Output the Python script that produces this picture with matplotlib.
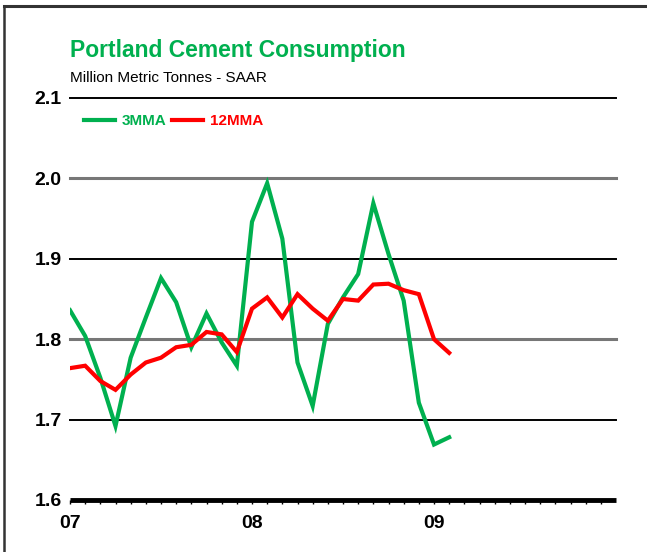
import numpy as np
import matplotlib.pyplot as plt
from matplotlib.lines import Line2D

# months since Jan 2007
months = np.arange(26)
mma3 = [1.836, 1.804, 1.752, 1.692, 1.777, 1.827, 1.876, 1.846, 1.790, 1.832, 1.796, 1.767,
        1.946, 1.994, 1.925, 1.771, 1.717, 1.819, 1.852, 1.881, 1.969, 1.906, 1.848, 1.721,
        1.669, 1.678]
mma12 = [1.764, 1.767, 1.748, 1.737, 1.756, 1.771, 1.777, 1.790, 1.793, 1.809, 1.806, 1.784,
         1.838, 1.852, 1.827, 1.856, 1.838, 1.823, 1.850, 1.848, 1.868, 1.869, 1.861, 1.856,
         1.800, 1.783]
year_labels = ['07', '08', '09']
yticks = [1.6, 1.7, 1.8, 1.9, 2.0, 2.1]

green = '#00B04F'
red = '#FF0000'
plt.rcParams['font.family'] = ['Liberation Sans', 'DejaVu Sans']

fig = plt.figure(figsize=(6.47, 5.52), dpi=100)
ax = fig.add_axes([70/647, 52/552, 546/647, 402/552])

# grid lines: black thin / gray alternating
for v in yticks[1:]:
    if round(v * 10) % 2 == 0:
        ax.axhline(v, color='#777777', lw=2.2, zorder=1, clip_on=False)
    else:
        ax.axhline(v, color='black', lw=1.4, zorder=1, clip_on=False)

ax.plot(months, mma3, color=green, lw=3, label='3MMA', zorder=3, solid_joinstyle='miter')
ax.plot(months, mma12, color=red, lw=3, label='12MMA', zorder=3, solid_joinstyle='miter')

ax.set_xlim(0, 36)
ax.set_ylim(1.6, 2.1)
for s in ['top', 'right', 'left']:
    ax.spines[s].set_visible(False)
ax.spines['bottom'].set_linewidth(3.5)
ax.spines['bottom'].set_capstyle('butt')

ax.set_yticks(yticks)
ax.set_yticklabels(['%.1f' % v for v in yticks], fontsize=14, fontweight='bold')
ax.tick_params(axis='y', length=0, pad=6)
ax.set_xticks([0, 12, 24])
ax.set_xticklabels(year_labels, fontsize=14, fontweight='bold')
ax.set_xticks(np.arange(0, 36), minor=True)
ax.tick_params(axis='x', which='both', direction='out', length=3, width=1, pad=8)

leg = ax.legend(loc='center left', bbox_to_anchor=(0.026, 0.943), ncol=2, frameon=False,
                handlelength=2.0, handletextpad=0.45, columnspacing=0.4,
                borderpad=0, borderaxespad=0, prop={'weight': 'bold', 'size': 11})
for txt, c in zip(leg.get_texts(), [green, red]):
    txt.set_color(c)

fig.text(70/647, 1 - 57/552, 'Portland Cement Consumption', color=green, fontsize=16.5,
         fontweight='bold', va='baseline', ha='left')
fig.text(70/647, 1 - 82/552, 'Million Metric Tonnes - SAAR', color='black', fontsize=11,
         va='baseline', ha='left')

# frame around the figure (left and top)
fig.add_artist(Line2D([4/647, 4/647], [0, 1 - 6/552], color='#333333', lw=1.8, transform=fig.transFigure))
fig.add_artist(Line2D([4/647, 1], [1 - 6/552, 1 - 6/552], color='#333333', lw=2.2, transform=fig.transFigure))

fig.savefig('out.png', dpi=100)
